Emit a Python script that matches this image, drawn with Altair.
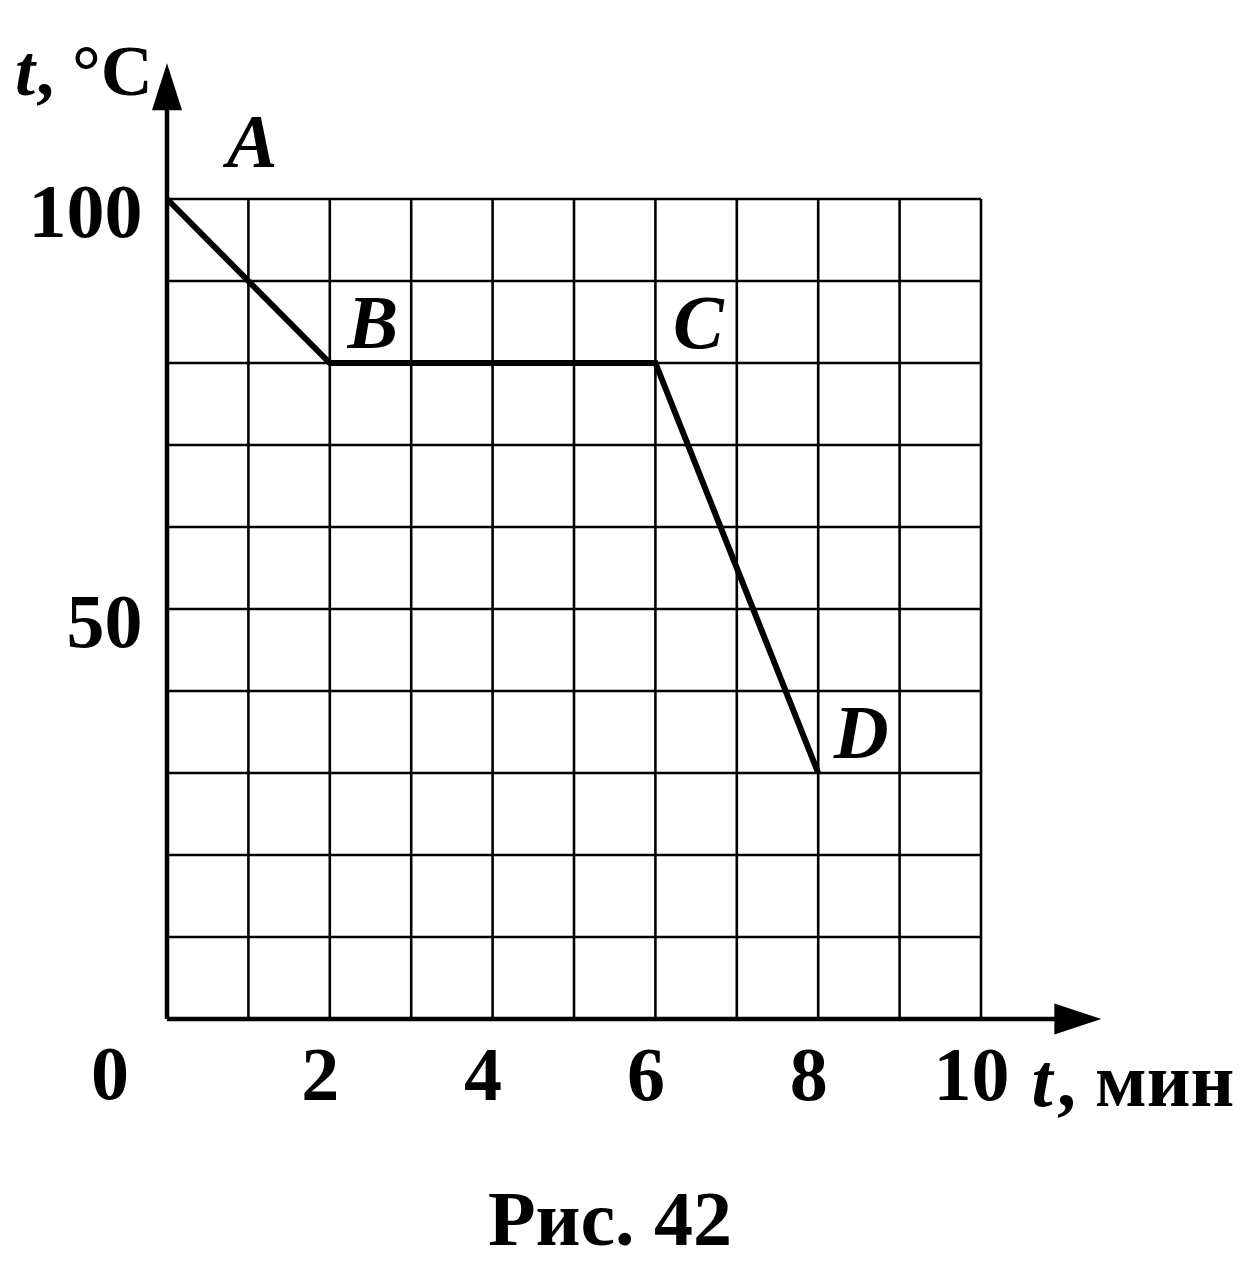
import altair as alt
import pandas as pd

# ---- data ----
time_min = [0, 2, 6, 8]
temp_c = [100, 80, 80, 30]
point_names = ["A", "B", "C", "D"]

x_grid = list(range(0, 11))          # grid every 1 min
y_grid = list(range(0, 101, 10))     # grid every 10 °C
x_ticks = [0, 2, 4, 6, 8, 10]
y_ticks = [50, 100]

x_arrow_end = 11.19   # arrowhead centre on time axis (min)
y_arrow_end = 113.7   # arrowhead centre on temperature axis (°C)

y_title_t = "t"
y_title_rest = ", °C"
x_title_t = "t"
x_title_rest = ", мин"
caption = "Рис. 42"

# ---- styling ----
W, H = 814, 820
FONT = "Liberation Serif"
FS = 76
WEIGHT = "bold"
BLACK = "black"

xs = alt.Scale(domain=[0, 10], nice=False, zero=False)
ys = alt.Scale(domain=[0, 100], nice=False, zero=False)

x_axis = alt.Axis(values=x_ticks[1:], grid=False, domain=False, ticks=False,
                  title=None, labelFont=FONT, labelFontSize=FS, labelColor=BLACK,
                  labelFontWeight=WEIGHT,
                  labelBaseline="middle", labelPadding=57, labelOffset=-10,
                  labelFlush=False, labelOverlap=False, labelBound=False)
y_axis = alt.Axis(values=y_ticks, grid=False, domain=False, ticks=False,
                  title=None, labelFont=FONT, labelFontSize=FS, labelColor=BLACK,
                  labelFontWeight=WEIGHT,
                  labelBaseline="middle", labelPadding=25, labelOffset=14,
                  labelFlush=False, labelOverlap=False, labelBound=False)


def X(field):
    return alt.X(field, scale=xs, axis=x_axis)


def Y(field):
    return alt.Y(field, scale=ys, axis=y_axis)


# grid
gx = alt.Chart(pd.DataFrame({"x": x_grid})).mark_rule(
    color=BLACK, strokeWidth=2.6).encode(x=X("x:Q"))
gy = alt.Chart(pd.DataFrame({"y": y_grid})).mark_rule(
    color=BLACK, strokeWidth=2.6).encode(y=Y("y:Q"))

# axes with arrows
axis_y_line = alt.Chart(pd.DataFrame({"x": [0], "y": [0], "y2": [y_arrow_end]})).mark_rule(
    color=BLACK, strokeWidth=4.5).encode(x=X("x:Q"), y=Y("y:Q"), y2="y2:Q")
axis_x_line = alt.Chart(pd.DataFrame({"x": [0], "x2": [x_arrow_end], "y": [0]})).mark_rule(
    color=BLACK, strokeWidth=4.5).encode(x=X("x:Q"), x2="x2:Q", y=Y("y:Q"))
arrow_up = alt.Chart(pd.DataFrame({"x": [0], "y": [y_arrow_end]})).mark_point(
    shape="M0,-1L0.64,1L-0.64,1Z", size=2209, filled=True, color=BLACK,
    opacity=1, strokeWidth=0).encode(x=X("x:Q"), y=Y("y:Q"))
arrow_right = alt.Chart(pd.DataFrame({"x": [x_arrow_end], "y": [0]})).mark_point(
    shape="M1,0L-1,0.66L-1,-0.66Z", size=2209, filled=True, color=BLACK,
    opacity=1, strokeWidth=0).encode(x=X("x:Q"), y=Y("y:Q"))

# data line
df = pd.DataFrame({"t": time_min, "temp": temp_c, "name": point_names,
                   "order": list(range(len(time_min)))})
line = alt.Chart(df).mark_line(color=BLACK, strokeWidth=6, strokeJoin="miter",
                               strokeCap="butt").encode(
    x=X("t:Q"), y=Y("temp:Q"), order="order:Q")

lab_a = alt.Chart(df.iloc[:1]).mark_text(
    font=FONT, fontSize=FS, fontStyle="italic", fontWeight=WEIGHT, color=BLACK,
    align="center", baseline="middle", dx=85, dy=-55).encode(
    x=X("t:Q"), y=Y("temp:Q"), text="name:N")
lab_bcd = alt.Chart(df.iloc[1:]).mark_text(
    font=FONT, fontSize=FS, fontStyle="italic", fontWeight=WEIGHT, color=BLACK,
    align="center", baseline="middle", dx=43, dy=-38).encode(
    x=X("t:Q"), y=Y("temp:Q"), text="name:N")

# origin label "0"
origin = alt.Chart(pd.DataFrame({"x": [x_ticks[0]], "y": [0], "lab": [str(x_ticks[0])]})).mark_text(
    font=FONT, fontSize=FS, fontWeight=WEIGHT, color=BLACK, align="center",
    baseline="middle", dx=-57, dy=57).encode(x=X("x:Q"), y=Y("y:Q"), text="lab:N")

one = pd.DataFrame({"a": [0]})


def txt(s, x, y, align, italic=False, size=FS):
    kw = dict(font=FONT, fontSize=size, fontWeight=WEIGHT, color=BLACK,
              align=align, baseline="alphabetic", text=s)
    if italic:
        kw["fontStyle"] = "italic"
    return alt.Chart(one).mark_text(**kw).encode(x=alt.value(x), y=alt.value(y))


titles = [
    txt(y_title_t, -142, -104, "center", italic=True, size=72),
    txt(y_title_rest, -131, -104, "left", size=72),
    txt(x_title_t, 875, 907, "center", italic=True),
    txt(x_title_rest, 890, 907, "left"),
    txt(caption, 443, 1046, "center", size=78),
]

chart = alt.layer(gx, gy, axis_y_line, axis_x_line, arrow_up, arrow_right,
                  line, lab_a, lab_bcd, origin, *titles).properties(
    width=W, height=H,
    padding={"left": 159, "top": 191, "right": 265, "bottom": 244},
    autosize="none", background="white",
).configure_view(stroke=None)

chart.save("out.html", embed_options={"renderer": "svg", "actions": False})
